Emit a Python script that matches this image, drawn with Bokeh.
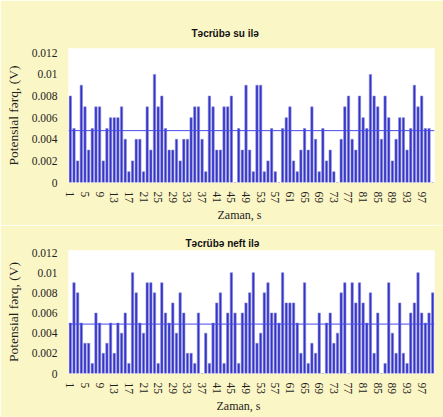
import math
from bokeh.plotting import figure
from bokeh.layouts import column
from bokeh.models import FixedTicker, Span, Range1d, ColumnDataSource, Title
from bokeh.embed import file_html
from bokeh.resources import INLINE

# ---------------- data ----------------
time_s = list(range(1, 101))

water = [0.008, 0.005, 0.002, 0.009, 0.007, 0.003, 0.005, 0.007, 0.007, 0.002,
         0.005, 0.006, 0.006, 0.006, 0.007, 0.004, 0.001, 0.002, 0.004, 0.004,
         0.001, 0.007, 0.003, 0.010, 0.007, 0.008, 0.005, 0.003, 0.003, 0.004,
         0.002, 0.004, 0.004, 0.006, 0.007, 0.007, 0.004, 0.001, 0.008, 0.007,
         0.003, 0.003, 0.007, 0.007, 0.008, 0.0, 0.005, 0.003, 0.009, 0.003,
         0.001, 0.009, 0.009, 0.001, 0.002, 0.005, 0.001, 0.0, 0.005, 0.006,
         0.007, 0.002, 0.001, 0.003, 0.005, 0.003, 0.007, 0.004, 0.001, 0.005,
         0.002, 0.003, 0.001, 0.0, 0.004, 0.007, 0.008, 0.004, 0.003, 0.008,
         0.006, 0.005, 0.010, 0.008, 0.007, 0.004, 0.008, 0.006, 0.002, 0.004,
         0.006, 0.006, 0.003, 0.005, 0.009, 0.007, 0.008, 0.005, 0.005, 0.0]

oil = [0.005, 0.009, 0.008, 0.005, 0.003, 0.003, 0.001, 0.006, 0.005, 0.002,
       0.003, 0.005, 0.002, 0.005, 0.004, 0.006, 0.001, 0.010, 0.008, 0.005,
       0.004, 0.009, 0.009, 0.008, 0.001, 0.009, 0.006, 0.005, 0.007, 0.004,
       0.008, 0.006, 0.002, 0.002, 0.001, 0.006, 0.0, 0.004, 0.001, 0.005,
       0.007, 0.008, 0.001, 0.006, 0.010, 0.006, 0.001, 0.006, 0.007, 0.008,
       0.010, 0.003, 0.004, 0.008, 0.009, 0.006, 0.006, 0.005, 0.010, 0.007,
       0.007, 0.007, 0.005, 0.002, 0.009, 0.001, 0.003, 0.002, 0.006, 0.0,
       0.005, 0.006, 0.003, 0.004, 0.008, 0.009, 0.0, 0.009, 0.007, 0.009,
       0.007, 0.005, 0.008, 0.002, 0.006, 0.0, 0.001, 0.009, 0.004, 0.002,
       0.007, 0.002, 0.001, 0.006, 0.007, 0.010, 0.006, 0.005, 0.006, 0.008]

water_mean = 0.0048
oil_mean = 0.0049

y_ticks = [0, 0.002, 0.004, 0.006, 0.008, 0.01, 0.012]
y_tick_labels = ["0", "0.002", "0.004", "0.006", "0.008", "0.01", "0.012"]
x_ticks = list(range(1, 101, 4))

title_water = "Təcrübə su ilə"
title_oil = "Təcrübə neft ilə"
x_label = "Zaman, s"
y_label = "Potensial fərq, (V)"

# ---------------- style ----------------
BG = "#fbf6c6"
BAR_FILL = "#3232cc"
BAR_LINE = "#8888d4"
MEAN_COLOR = "#4848ee"
TEXT = "#1e1e1e"
SERIF = "Liberation Serif"
SANS = "Liberation Sans"


def make_chart(title, values, mean, height, top, bottom, y_top,
               title_standoff, title_valign, title_offset, xlabel_offset, xlabel_standoff):
    p = figure(width=443, height=height, output_backend="svg", toolbar_location=None,
               x_range=Range1d(0.5, 100.5), y_range=Range1d(0, y_top),
               min_border_left=68, min_border_right=9,
               min_border_top=top, min_border_bottom=bottom)
    p.background_fill_color = "white"
    p.border_fill_color = BG
    p.outline_line_color = None
    p.xgrid.grid_line_color = None
    p.ygrid.grid_line_color = None

    p.add_layout(Title(text=title, align="left", offset=title_offset,
                       vertical_align=title_valign,
                       standoff=title_standoff, text_font=SANS,
                       text_font_size="10px", text_font_style="bold",
                       text_color="#111111"), "above")

    src = ColumnDataSource(dict(x=time_s, top=values))
    p.vbar(x="x", top="top", width=0.64, source=src,
           fill_color=BAR_FILL, line_color=BAR_LINE, line_width=0.6)
    p.add_layout(Span(location=mean, dimension="width",
                      line_color=MEAN_COLOR, line_width=1))

    xa = p.xaxis[0]
    xa.ticker = FixedTicker(ticks=x_ticks)
    xa.major_label_orientation = -math.pi / 2
    xa.major_tick_line_color = None
    xa.minor_tick_line_color = None
    xa.axis_line_color = None
    xa.major_label_standoff = 3
    xa.major_label_text_font = SERIF
    xa.major_label_text_font_size = "11.5px"
    xa.major_label_text_color = TEXT

    p.add_layout(Title(text=x_label, align="left", offset=xlabel_offset,
                       vertical_align="top",
                       standoff=xlabel_standoff, text_font=SERIF,
                       text_font_size="12px", text_font_style="normal",
                       text_color=TEXT), "below")

    ya = p.yaxis[0]
    ya.ticker = FixedTicker(ticks=y_ticks)
    ya.major_label_overrides = {t: s for t, s in zip(y_ticks, y_tick_labels)}
    ya.major_tick_line_color = None
    ya.minor_tick_line_color = None
    ya.axis_line_color = None
    ya.major_label_standoff = 5
    ya.major_label_text_font = SERIF
    ya.major_label_text_font_size = "11.5px"
    ya.major_label_text_color = TEXT
    ya.axis_label = y_label
    ya.axis_label_standoff = 8
    ya.axis_label_text_font = SERIF
    ya.axis_label_text_font_size = "13.5px"
    ya.axis_label_text_font_style = "normal"
    ya.axis_label_text_color = TEXT
    return p


p1 = make_chart(title_water, water, water_mean, 225, 48, 42, 0.0124,
                19, "bottom", 123, 149, 3)
p2 = make_chart(title_oil, oil, oil_mean, 192, 25, 44, 0.0122,
                2, "middle", 117, 148, 3)

layout = column(p1, p2, spacing=0)
open("out.html", "w").write(file_html(layout, INLINE))
